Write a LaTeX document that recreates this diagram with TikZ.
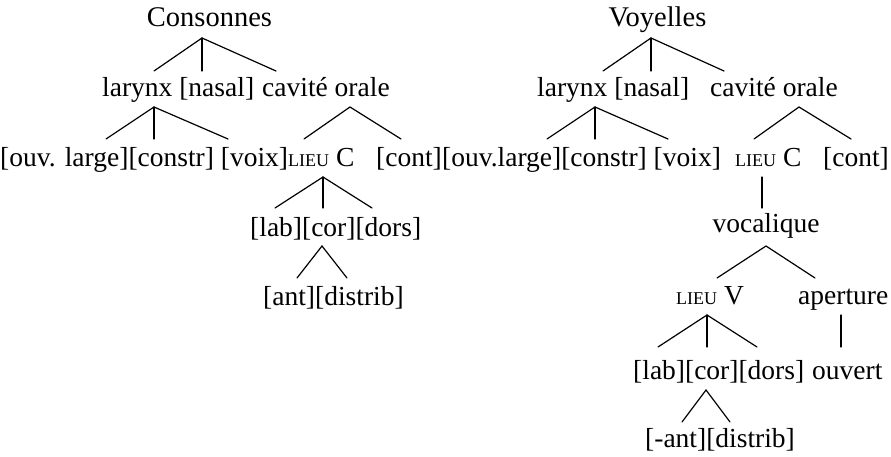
\documentclass[tikz,border=0pt]{standalone}
\usepackage{fontspec}
\setmainfont{Liberation Serif}
\newcommand{\lieusc}{{\fontsize{18pt}{18pt}\selectfont LIEU}}
\begin{document}
\begin{tikzpicture}[x=1pt,y=-1pt,
  lbl/.style={anchor=base west,inner sep=0pt,font=\fontsize{27.5pt}{30pt}\selectfont},
  ttl/.style={anchor=base,inner sep=0pt,font=\fontsize{28.5pt}{30pt}\selectfont},
  br/.style={line width=1.2pt,line cap=round}]
\useasboundingbox (0,0) rectangle (891,457);
% ---------- Consonnes ----------
\node[ttl] (cTitle) at (209.5,27) {Consonnes};
\node[lbl] (cLar) at (102,97) {larynx [nasal]};
\node[lbl] (cCav) at (262,97) {cavité orale};
\node[lbl] (cOuv) at (0,167) {[ouv. large][constr] [voix]};
\node[lbl] (cLieu) at (288,167) {\lieusc\ C};
\node[lbl] (cCont) at (376,167) {[cont]};
\node[lbl] (cLab) at (250,236) {[lab][cor][dors]};
\node[lbl] (cAnt) at (263,305) {[ant][distrib]};
\coordinate (cA1) at (202,38);
\coordinate (cA1a) at (154,71); \coordinate (cA1b) at (202,71); \coordinate (cA1c) at (276,71);
\coordinate (cA2) at (154,107);
\coordinate (cA2a) at (106,139); \coordinate (cA2b) at (154,139); \coordinate (cA2c) at (228,139);
\coordinate (cA3) at (350,107);
\coordinate (cA3a) at (304,139); \coordinate (cA3b) at (401,139);
\coordinate (cA4) at (323,177);
\coordinate (cA4a) at (275,208); \coordinate (cA4b) at (323,208); \coordinate (cA4c) at (372,208);
\coordinate (cA5) at (322,246);
\coordinate (cA5a) at (297,278); \coordinate (cA5b) at (347,278);
\draw[br] (cA1a) -- (cA1) -- (cA1c); \draw[br] (cA1) -- (cA1b);
\draw[br] (cA2a) -- (cA2) -- (cA2c); \draw[br] (cA2) -- (cA2b);
\draw[br] (cA3a) -- (cA3) -- (cA3b);
\draw[br] (cA4a) -- (cA4) -- (cA4c); \draw[br] (cA4) -- (cA4b);
\draw[br] (cA5a) -- (cA5) -- (cA5b);
% ---------- Voyelles ----------
\node[ttl] (vTitle) at (657.5,27) {Voyelles};
\node[lbl] (vLar) at (537,97) {larynx [nasal]};
\node[lbl] (vCav) at (710,97) {cavité orale};
\node[lbl] (vOuv) at (442,167) {[ouv.large][constr] [voix]};
\node[lbl] (vLieu) at (735,167) {\lieusc\ C};
\node[lbl] (vCont) at (823,167) {[cont]};
\node[lbl,anchor=base] (vVoc) at (766,233) {vocalique};
\node[lbl] (vLieuV) at (676,304) {\lieusc\ V};
\node[lbl] (vApe) at (798,304) {aperture};
\node[lbl] (vLab) at (633,379) {[lab][cor][dors]};
\node[lbl] (vOuvert) at (812,379) {ouvert};
\node[lbl] (vAnt) at (645,447) {[-ant][distrib]};
\coordinate (vA1) at (651,38);
\coordinate (vA1a) at (603,71); \coordinate (vA1b) at (651,71); \coordinate (vA1c) at (724,71);
\coordinate (vA2) at (595,107);
\coordinate (vA2a) at (547,139); \coordinate (vA2b) at (595,139); \coordinate (vA2c) at (668,139);
\coordinate (vA3) at (799,107);
\coordinate (vA3a) at (754,139); \coordinate (vA3b) at (851,139);
\coordinate (vA4) at (762,177); \coordinate (vA4a) at (762,208);
\coordinate (vA5) at (766,246);
\coordinate (vA5a) at (717,278); \coordinate (vA5b) at (815,278);
\coordinate (vA6) at (707,315);
\coordinate (vA6a) at (658,347); \coordinate (vA6b) at (707,347); \coordinate (vA6c) at (757,347);
\coordinate (vA7) at (841,315); \coordinate (vA7a) at (841,347);
\coordinate (vA8) at (706,390);
\coordinate (vA8a) at (682,422); \coordinate (vA8b) at (730,422);
\draw[br] (vA1a) -- (vA1) -- (vA1c); \draw[br] (vA1) -- (vA1b);
\draw[br] (vA2a) -- (vA2) -- (vA2c); \draw[br] (vA2) -- (vA2b);
\draw[br] (vA3a) -- (vA3) -- (vA3b);
\draw[br] (vA4) -- (vA4a);
\draw[br] (vA5a) -- (vA5) -- (vA5b);
\draw[br] (vA6a) -- (vA6) -- (vA6c); \draw[br] (vA6) -- (vA6b);
\draw[br] (vA7) -- (vA7a);
\draw[br] (vA8a) -- (vA8) -- (vA8b);
\end{tikzpicture}
\end{document}
